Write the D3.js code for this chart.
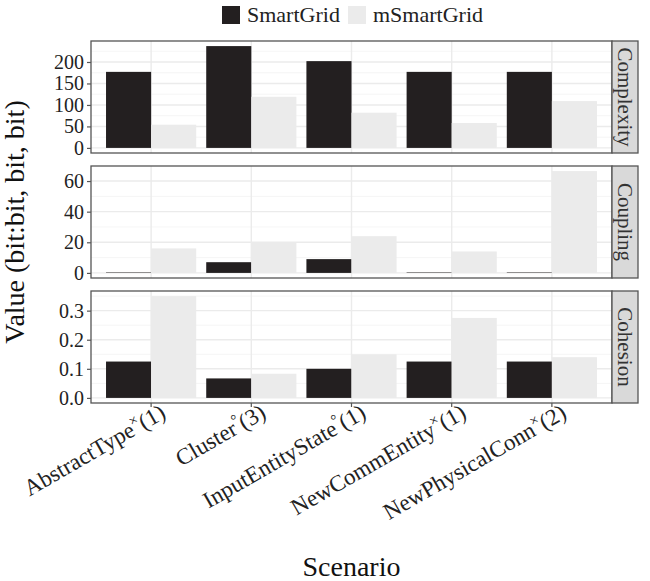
<!DOCTYPE html>
<html>
<head>
<meta charset="utf-8">
<script src="https://cdn.jsdelivr.net/npm/d3@7"></script>
<style>
  body { margin: 0; background: #fff; }
  svg text { font-family: "Liberation Serif", "Times New Roman", serif; }
</style>
</head>
<body>
<script>
'use strict';

var width = 650,
    height = 581;

var FONT = '"Liberation Serif", "Times New Roman", serif';

// scenarios on the x axis
var scenarios = ['AbstractType', 'Cluster', 'InputEntityState', 'NewCommEntity', 'NewPhysicalConn'];
var marks = ['\u00d7', '\u00b0', '\u00b0', '\u00d7', '\u00d7'];
var counts = ['(1)', '(3)', '(1)', '(1)', '(2)'];

var series = ['SmartGrid', 'mSmartGrid'];
var metrics = ['Complexity', 'Coupling', 'Cohesion'];

// values per metric, one array per series
var complexitySG = [177, 237, 202, 177, 177];
var complexityM  = [54, 119, 82, 58, 109];
var couplingSG   = [0.3, 7, 9, 0.3, 0.3];
var couplingM    = [16, 20, 24, 14, 66.5];
var cohesionSG   = [0.125, 0.067, 0.1, 0.125, 0.125];
var cohesionM    = [0.35, 0.083, 0.15, 0.275, 0.14];

var complexityTicks = [0, 50, 100, 150, 200];
var couplingTicks   = [0, 20, 40, 60];
var cohesionTicks   = [0, 0.1, 0.2, 0.3];

var colors = ['#231f20', '#ebebeb'];

var panelData = [
  { name: metrics[0], values: [complexitySG, complexityM], ticks: complexityTicks, fmt: d3.format('d') },
  { name: metrics[1], values: [couplingSG, couplingM],     ticks: couplingTicks,   fmt: d3.format('d') },
  { name: metrics[2], values: [cohesionSG, cohesionM],     ticks: cohesionTicks,   fmt: d3.format('.1f') }
];

var left = 91, right = 612, stripW = 26;
var panelTop = [41, 166, 291], panelH = 112;

var svg = d3.select('body').append('svg')
    .attr('width', width)
    .attr('height', height)
    .attr('font-family', FONT);

var x = d3.scaleBand()
    .domain(scenarios)
    .range([left, right])
    .paddingInner(0.1)
    .paddingOuter(0.15);

var xSub = d3.scaleBand()
    .domain(series)
    .range([0, x.bandwidth()]);

panelData.forEach(function(p, i) {
  var top = panelTop[i], bottom = top + panelH;
  var maxV = d3.max(p.values, function(v) { return d3.max(v); });
  var y = d3.scaleLinear()
      .domain([-0.05 * maxV, 1.05 * maxV])
      .range([bottom, top]);

  var g = svg.append('g');

  // minor grid
  var step = p.ticks[1] - p.ticks[0];
  var minor = [];
  p.ticks.forEach(function(t) {
    [t - step / 2, t + step / 2].forEach(function(m) {
      if (y(m) > top && y(m) < bottom && minor.indexOf(m) < 0) minor.push(m);
    });
  });
  g.selectAll('.minor').data(minor).enter().append('line')
    .attr('x1', left).attr('x2', right)
    .attr('y1', function(d) { return y(d); })
    .attr('y2', function(d) { return y(d); })
    .attr('stroke', '#f2f2f2').attr('stroke-width', 0.8);

  // major grid
  g.selectAll('.major').data(p.ticks).enter().append('line')
    .attr('x1', left).attr('x2', right)
    .attr('y1', function(d) { return y(d); })
    .attr('y2', function(d) { return y(d); })
    .attr('stroke', '#ebebeb').attr('stroke-width', 1.4);

  g.selectAll('.vgrid').data(scenarios).enter().append('line')
    .attr('x1', function(d) { return x(d) + x.bandwidth() / 2; })
    .attr('x2', function(d) { return x(d) + x.bandwidth() / 2; })
    .attr('y1', top).attr('y2', bottom)
    .attr('stroke', '#ebebeb').attr('stroke-width', 1.4);

  // bars
  series.forEach(function(s, si) {
    g.selectAll('.bar' + si).data(p.values[si]).enter().append('rect')
      .attr('x', function(d, j) { return x(scenarios[j]) + xSub(s); })
      .attr('width', xSub.bandwidth())
      .attr('y', function(d) { return y(d); })
      .attr('height', function(d) { return y(0) - y(d); })
      .attr('fill', colors[si]);
  });

  // border
  g.append('rect')
    .attr('x', left).attr('y', top)
    .attr('width', right - left).attr('height', panelH)
    .attr('fill', 'none').attr('stroke', '#555').attr('stroke-width', 1.3);

  // y axis
  var yAxis = d3.axisLeft(y).tickValues(p.ticks).tickFormat(p.fmt).tickSize(4).tickPadding(3);
  var ax = g.append('g').attr('transform', 'translate(' + left + ',0)').call(yAxis)
    .attr('font-family', FONT);
  ax.select('.domain').remove();
  ax.selectAll('line').attr('stroke', '#555').attr('stroke-width', 1.2);
  ax.selectAll('text').attr('font-size', 20).attr('fill', '#222');

  // strip
  g.append('rect')
    .attr('x', right).attr('y', top)
    .attr('width', stripW).attr('height', panelH)
    .attr('fill', '#d9d9d9').attr('stroke', '#555').attr('stroke-width', 1.3);
  g.append('text')
    .attr('transform', 'translate(' + (right + stripW / 2) + ',' + (top + panelH / 2) + ') rotate(90)')
    .attr('text-anchor', 'middle').attr('dy', '0.33em')
    .attr('font-size', 21).attr('fill', '#333')
    .text(p.name);

  // x axis on last panel
  if (i === panelData.length - 1) {
    var xAxis = d3.axisBottom(x).tickSize(4).tickFormat('');
    var xa = g.append('g').attr('transform', 'translate(0,' + bottom + ')').call(xAxis);
    xa.select('.domain').remove();
    xa.selectAll('line').attr('stroke', '#555').attr('stroke-width', 1.2);

    var lab = g.selectAll('.xlab').data(scenarios).enter().append('text')
      .attr('transform', function(d) {
        return 'translate(' + (x(d) + x.bandwidth() / 2 + 16) + ',' + (bottom + 14) + ') rotate(-30)';
      })
      .attr('text-anchor', 'end')
      .attr('font-size', 23).attr('fill', '#222');
    lab.append('tspan').text(function(d) { return d; });
    lab.append('tspan').attr('font-size', 15).attr('dy', -9).text(function(d, j) { return marks[j]; });
    lab.append('tspan').attr('dy', 9).text(function(d, j) { return counts[j]; });
  }
});

// axis titles
svg.append('text')
  .attr('transform', 'translate(24,' + (panelTop[0] + (panelTop[2] + panelH - panelTop[0]) / 2) + ') rotate(-90)')
  .attr('text-anchor', 'middle')
  .attr('font-size', 28).attr('fill', '#111')
  .text('Value (bit:bit, bit, bit)');

svg.append('text')
  .attr('x', (left + right) / 2).attr('y', 576)
  .attr('text-anchor', 'middle')
  .attr('font-size', 28).attr('fill', '#111')
  .text('Scenario');

// legend
var legendX = [222, 348];
var leg = svg.selectAll('.leg').data(series).enter().append('g')
  .attr('transform', function(d, i) { return 'translate(' + legendX[i] + ',6)'; });
leg.append('rect').attr('width', 18).attr('height', 18)
  .attr('fill', function(d, i) { return colors[i]; });
leg.append('text').attr('x', 25).attr('y', 16)
  .attr('font-size', 22).attr('fill', '#222')
  .text(function(d) { return d; });
</script>
</body>
</html>
